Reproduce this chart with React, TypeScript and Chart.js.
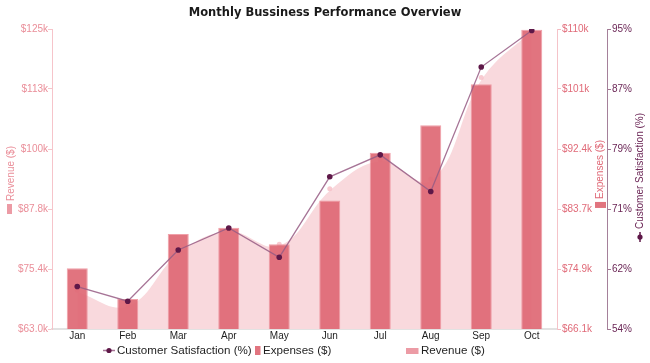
import React, { useEffect, useRef } from 'react';
import { Chart, registerables } from 'chart.js';

Chart.register(...registerables);

const months = ['Jan', 'Feb', 'Mar', 'Apr', 'May', 'Jun', 'Jul', 'Aug', 'Sep', 'Oct'];
const revenue = [71000, 68000, 79000, 83500, 80500, 92000, 98000, 94000, 115000, 125000];
const expenses = [75000, 70500, 80000, 80900, 78500, 84900, 91900, 95900, 101900, 109900];
const satisfaction = [60, 58, 65, 68, 64, 75, 78, 73, 90, 95];

const revenueRange = [63000, 125000];
const expensesRange = [66100, 110000];
const satisfactionRange = [54.2, 95.2];

const TITLE = 'Monthly Bussiness Performance Overview';
const SANS = '"Liberation Sans", Arial, sans-serif';

const C_REV_TICK = '#ea8e99';
const C_REV_FILL = 'rgb(249,217,221)';
const C_REV_MARK = '#ec9ba5';
const C_EXP = 'rgba(222,104,116,0.92)';
const C_EXP_TICK = '#e06a78';
const C_SAT_LINE = 'rgba(150,92,132,0.85)';
const C_SAT_PT = '#5e1848';
const C_SAT_TICK = '#6b2656';

function rotTitle(
  ctx: CanvasRenderingContext2D,
  x: number,
  cy: number,
  text: string,
  color: string,
  markerLen: number,
  drawMarker: (ctx: CanvasRenderingContext2D, x0: number) => void
) {
  ctx.save();
  ctx.translate(x, cy);
  ctx.rotate(-Math.PI / 2);
  ctx.font = '10px ' + SANS;
  const tw = ctx.measureText(text).width;
  const gap = 3;
  const W = markerLen + gap + tw;
  const x0 = -W / 2;
  drawMarker(ctx, x0);
  ctx.fillStyle = color;
  ctx.textAlign = 'left';
  ctx.textBaseline = 'middle';
  ctx.fillText(text, x0 + markerLen + gap, 0);
  ctx.restore();
}

const decor = {
  id: 'decor',
  afterDraw(chart: any) {
    const ctx: CanvasRenderingContext2D = chart.ctx;
    const ca = chart.chartArea;
    const cy = (ca.top + ca.bottom) / 2;
    ctx.save();
    // title
    ctx.font = 'bold 11.5px "DejaVu Sans", sans-serif';
    ctx.fillStyle = '#1a1a1a';
    ctx.textAlign = 'center';
    ctx.textBaseline = 'middle';
    ctx.fillText(TITLE, chart.width / 2, 13);

    // axis titles
    const sy = chart.scales.y;
    const sy1 = chart.scales.y1;
    const sy2 = chart.scales.y2;
    rotTitle(ctx, sy.left + 11, cy + 1, 'Revenue ($)', C_REV_TICK, 10, (c, x0) => {
      c.fillStyle = C_REV_MARK;
      c.fillRect(x0, -4, 10, 5);
    });
    rotTitle(ctx, sy1.left + 43.5, cy - 5, 'Expenses ($)', C_EXP_TICK, 6, (c, x0) => {
      c.fillStyle = C_EXP;
      c.fillRect(x0, -5.5, 6, 11);
    });
    rotTitle(ctx, sy2.left + 33, cy - 1.5, 'Customer Satisfaction (%)', C_SAT_TICK, 10, (c, x0) => {
      c.strokeStyle = C_SAT_PT;
      c.lineWidth = 1.5;
      c.beginPath();
      c.moveTo(x0, 0);
      c.lineTo(x0 + 10, 0);
      c.stroke();
      c.fillStyle = C_SAT_PT;
      c.beginPath();
      c.arc(x0 + 5, 0, 2.6, 0, Math.PI * 2);
      c.fill();
    });

    // legend
    const ly = 350.5;
    ctx.font = '11.6px ' + SANS;
    ctx.textAlign = 'left';
    ctx.textBaseline = 'middle';
    ctx.strokeStyle = C_SAT_LINE;
    ctx.lineWidth = 1.5;
    ctx.beginPath();
    ctx.moveTo(103, ly);
    ctx.lineTo(115, ly);
    ctx.stroke();
    ctx.fillStyle = C_SAT_PT;
    ctx.beginPath();
    ctx.arc(109, ly, 2.6, 0, Math.PI * 2);
    ctx.fill();
    ctx.fillStyle = '#1e1e1e';
    ctx.fillText('Customer Satisfaction (%)', 117, ly);

    ctx.fillStyle = C_EXP;
    ctx.fillRect(255, ly - 4.5, 5.5, 9);
    ctx.fillStyle = '#1e1e1e';
    ctx.fillText('Expenses ($)', 263, ly);

    ctx.fillStyle = C_REV_MARK;
    ctx.fillRect(406, ly - 2.5, 12.5, 6);
    ctx.fillStyle = '#1e1e1e';
    ctx.fillText('Revenue ($)', 421, ly);
    ctx.restore();
  },
};

export default function App() {
  const ref = useRef<HTMLCanvasElement | null>(null);

  useEffect(() => {
    if (!ref.current) return;
    const tickFont = { family: SANS, size: 10 };
    const chart = new Chart(ref.current, {
      type: 'bar',
      data: {
        labels: months,
        datasets: [
          {
            type: 'line',
            label: 'Customer Satisfaction (%)',
            data: satisfaction,
            yAxisID: 'y2',
            borderColor: C_SAT_LINE,
            borderWidth: 1.3,
            pointRadius: 2.8,
            pointBackgroundColor: C_SAT_PT,
            pointBorderWidth: 0,
            tension: 0,
            fill: false,
            order: 0,
          } as any,
          {
            type: 'bar',
            label: 'Expenses ($)',
            data: expenses,
            yAxisID: 'y1',
            backgroundColor: C_EXP,
            borderColor: 'rgba(238,150,160,0.9)',
            borderWidth: 1,
            barPercentage: 0.52,
            categoryPercentage: 0.8,
            order: 1,
          } as any,
          {
            type: 'line',
            label: 'Revenue ($)',
            data: revenue,
            yAxisID: 'y',
            borderColor: '#ffffff',
            borderWidth: 3,
            backgroundColor: C_REV_FILL,
            fill: 'start',
            tension: 0.4,
            pointRadius: 2.5,
            pointBackgroundColor: 'rgba(246,190,198,0.8)',
            pointBorderWidth: 0,
            order: 2,
          } as any,
        ],
      },
      options: {
        responsive: false,
        animation: false,
        layout: { padding: { top: 29, bottom: 20, left: 0, right: 0 } },
        plugins: {
          legend: { display: false },
          title: { display: false },
          tooltip: { enabled: false },
        },
        scales: {
          x: {
            grid: { display: false, drawTicks: false, tickLength: 0 },
            border: { display: true, color: '#e2e2e2', width: 2 },
            ticks: { color: '#1e1e1e', font: tickFont, padding: 1 },
            afterFit: (s: any) => {
              s.height = 14;
            },
          },
          y: {
            position: 'left',
            min: revenueRange[0],
            max: revenueRange[1],
            grid: { drawOnChartArea: false, drawTicks: true, tickLength: 4, color: '#f6c4ca' },
            border: { display: true, color: '#f6c4ca', width: 1 },
            ticks: {
              count: 6,
              color: C_REV_TICK,
              font: tickFont,
              padding: 0,
              callback: (v: any) => '$' + (Number(v) / 1000).toPrecision(3) + 'k',
            },
            afterFit: (s: any) => {
              s.width = 52;
            },
          },
          y1: {
            position: 'right',
            min: expensesRange[0],
            max: expensesRange[1],
            grid: { drawOnChartArea: false, drawTicks: true, tickLength: 4, color: '#f3b9c0' },
            border: { display: true, color: '#f5c3c9', width: 1 },
            ticks: {
              count: 6,
              color: C_EXP_TICK,
              font: tickFont,
              padding: 1,
              callback: (v: any) => '$' + (Number(v) / 1000).toPrecision(3) + 'k',
            },
            afterFit: (s: any) => {
              s.width = 50;
            },
          },
          y2: {
            position: 'right',
            min: satisfactionRange[0],
            max: satisfactionRange[1],
            grid: { drawOnChartArea: false, drawTicks: true, tickLength: 4, color: '#9f7590' },
            border: { display: true, color: '#a5809a', width: 1 },
            ticks: {
              count: 6,
              color: C_SAT_TICK,
              font: tickFont,
              padding: 1,
              callback: (v: any) => Math.round(Number(v)) + '%',
            },
            afterFit: (s: any) => {
              s.width = 43;
            },
          },
        },
      } as any,
      plugins: [decor],
    });
    return () => chart.destroy();
  }, []);

  return (
    <div style={{ position: 'absolute', left: 0, top: 0, width: 650, height: 363 }}>
      <canvas ref={ref} width={650} height={363} style={{ display: 'block' }} />
    </div>
  );
}
